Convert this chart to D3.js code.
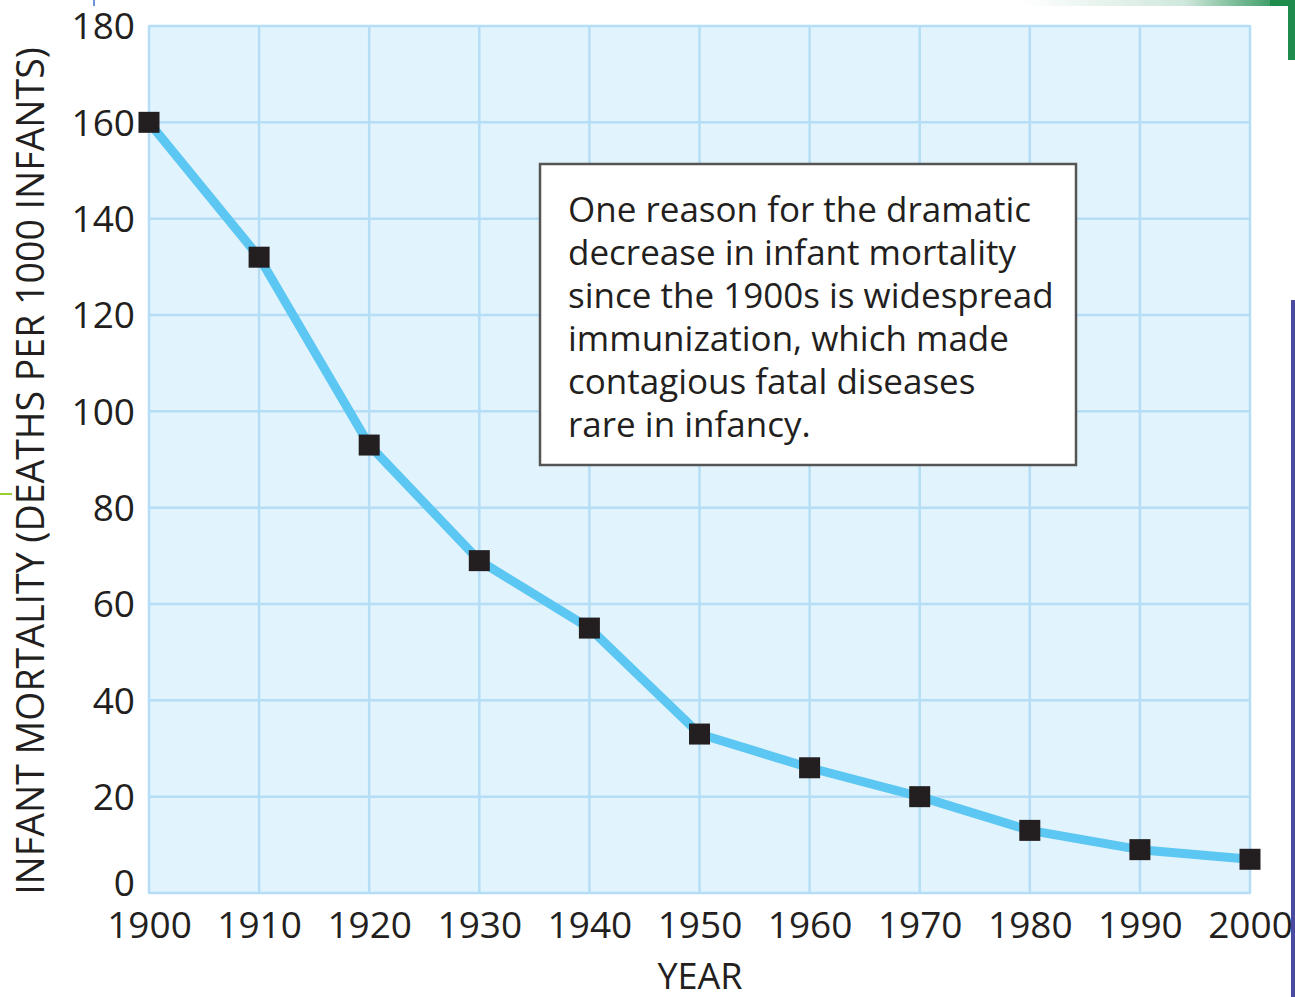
<!DOCTYPE html>
<html><head><meta charset="utf-8">
<script src="https://cdn.jsdelivr.net/npm/d3@7"></script>
<style>
html,body{margin:0;padding:0;background:#fff;}
svg{display:block;}
text{font-family:"Open Sans","Noto Sans",sans-serif;fill:#231f20;}
</style></head>
<body>
<svg id="chart" width="1295" height="997"></svg>
<script>
const years = [1900,1910,1920,1930,1940,1950,1960,1970,1980,1990,2000];
const mortality = [160,132,93,69,55,33,26,20,13,9,7];
const yTicks = [0,20,40,60,80,100,120,140,160,180];
const xTicks = [1900,1910,1920,1930,1940,1950,1960,1970,1980,1990,2000];
const noteLines = [
  "One reason for the dramatic",
  "decrease in infant mortality",
  "since the 1900s is widespread",
  "immunization, which made",
  "contagious fatal diseases",
  "rare in infancy."
];
const yTitle = "INFANT MORTALITY (DEATHS PER 1000 INFANTS)";
const xTitle = "YEAR";

const svg = d3.select("#chart");
const L = 149, R = 1250, T = 26, B = 893;
const x = d3.scaleLinear().domain([1900,2000]).range([L,R]);
const y = d3.scaleLinear().domain([0,180]).range([B,T]);

// slide decorations
const defs = svg.append("defs");
const g1 = defs.append("linearGradient").attr("id","topg").attr("x1","0").attr("x2","1");
g1.append("stop").attr("offset","0").attr("stop-color","#ffffff");
g1.append("stop").attr("offset","0.6").attr("stop-color","#cfe8dc");
g1.append("stop").attr("offset","1").attr("stop-color","#1a8a4a");
svg.append("rect").attr("x",1020).attr("y",0).attr("width",275).attr("height",6).attr("fill","url(#topg)");
svg.append("rect").attr("x",1270).attr("y",0).attr("width",25).attr("height",60).attr("fill","#1f8b4c");
svg.append("rect").attr("x",1260).attr("y",6).attr("width",28).attr("height",991).attr("fill","#ffffff");

// plot background
svg.append("rect").attr("x",L).attr("y",T).attr("width",R-L).attr("height",B-T)
  .attr("fill","#e1f3fc").attr("stroke","#b5def6").attr("stroke-width",2);

// grid
svg.append("g").selectAll("line").data(yTicks).join("line")
  .attr("x1",L).attr("x2",R).attr("y1",d=>y(d)).attr("y2",d=>y(d))
  .attr("stroke","#b5def6").attr("stroke-width",2.5);
svg.append("g").selectAll("line").data(xTicks).join("line")
  .attr("x1",d=>x(d)).attr("x2",d=>x(d)).attr("y1",T).attr("y2",B)
  .attr("stroke","#b5def6").attr("stroke-width",2.5);

// axes labels via d3 axes
const yAxis = svg.append("g").attr("transform",`translate(${L},0)`)
  .call(d3.axisLeft(y).tickValues(yTicks).tickSize(0).tickPadding(14));
yAxis.select(".domain").remove();
yAxis.selectAll("text").style("font-size","37px").attr("fill","#231f20")
  .attr("dy","0.35em")
  .attr("y", d => d === 0 ? -10 : 0);

const xAxis = svg.append("g").attr("transform",`translate(0,${B})`)
  .call(d3.axisBottom(x).tickValues(xTicks).tickFormat(d3.format("d")).tickSize(0).tickPadding(19));
xAxis.select(".domain").remove();
xAxis.selectAll("text").style("font-size","37px").attr("fill","#231f20");

// titles
svg.append("text").attr("transform",`translate(44,${471}) rotate(-90)`)
  .attr("text-anchor","middle").style("font-size","37.5px").text(yTitle);
svg.append("text").attr("x",700).attr("y",989)
  .attr("text-anchor","middle").style("font-size","36px").text(xTitle);

// line
const data = years.map((yr,i)=>({yr, v: mortality[i]}));
svg.append("path").datum(data)
  .attr("d", d3.line().x(d=>x(d.yr)).y(d=>y(d.v)))
  .attr("fill","none").attr("stroke","#5cc7f2").attr("stroke-width",9)
  .attr("stroke-linejoin","round").attr("stroke-linecap","round");

// markers
const s = 21;
svg.append("g").selectAll("rect").data(data).join("rect")
  .attr("x",d=>x(d.yr)-s/2).attr("y",d=>y(d.v)-s/2)
  .attr("width",s).attr("height",s).attr("fill","#231f20");

// note box
svg.append("rect").attr("x",540).attr("y",164).attr("width",536).attr("height",301)
  .attr("fill","#ffffff").attr("stroke","#555555").attr("stroke-width",2.5);
svg.append("g").selectAll("text").data(noteLines).join("text")
  .attr("x",568).attr("y",(d,i)=>222 + i*43)
  .style("font-size","35px").text(d=>d);

// edge decorations (drawn last, like the slide frame)
svg.append("rect").attr("x",1291).attr("y",300).attr("width",4).attr("height",697).attr("fill","#4a4aa0");
svg.append("line").attr("x1",94).attr("x2",94).attr("y1",0).attr("y2",6).attr("stroke","#3b6fd0").attr("stroke-width",1.5);
svg.append("line").attr("x1",0).attr("x2",12).attr("y1",494).attr("y2",494).attr("stroke","#9acd32").attr("stroke-width",2);
</script>
</body></html>
